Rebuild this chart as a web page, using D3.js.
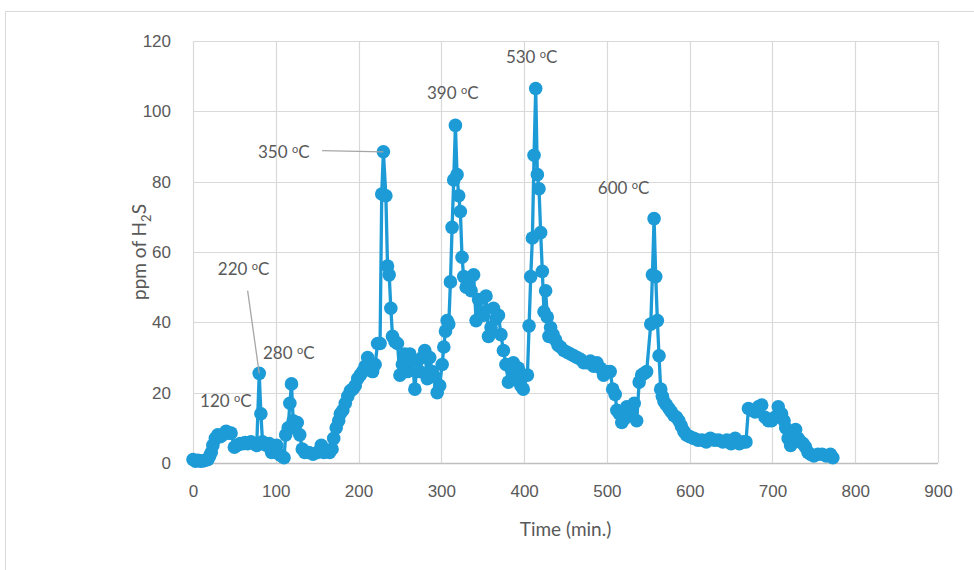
<!DOCTYPE html>
<html>
<head>
<meta charset="utf-8">
<script src="https://cdn.jsdelivr.net/npm/d3@7"></script>
<style>
  body { margin: 0; background: #fff; }
  svg { font-family: Lato, "Open Sans", sans-serif; }
  .tick text { fill: #595959; font-size: 17px; }
</style>
</head>
<body>
<svg width="974" height="570"></svg>
<script>
var times = [0,3,6,9,12,15,18,20,22,24,27,30,33,36,40,43,46,50,53,57,60,63,66,70,74,77,80,82,84,86,89,92,95,98,101,104,107,110,112,115,117,119,121,123,126,129,132,135,140,145,150,155,158,162,165,168,170,173,176,178,181,184,187,190,193,196,199,202,205,208,211,214,217,220,223,226,228,230,233,235,237,239,241,244,247,250,253,256,259,262,265,268,271,274,277,280,283,286,289,292,295,298,301,303,305,307,309,311,313,315,317,319,321,323,325,327,330,333,336,339,342,345,348,351,354,357,360,363,366,369,372,375,378,381,384,387,390,393,396,399,404,406,408,410,412,414,416,418,420,422,424,426,428,430,432,435,438,441,444,448,452,456,460,464,468,472,476,480,484,488,492,496,500,504,507,510,512,515,518,521,524,527,530,533,536,539,542,545,548,553,555,557,559,561,563,565,567,569,572,575,578,581,584,587,590,593,596,600,605,610,615,620,625,630,635,640,645,650,655,660,665,668,671,675,679,683,687,691,695,699,703,707,711,714,716,719,722,725,728,731,734,737,740,743,746,750,755,760,765,770,773];
var ppm = [1,0.5,0.8,0.5,0.6,0.8,1,2,3,5,7,8,7.5,8,9,8.5,8.5,4.5,5,5.5,5.5,5.8,5.5,6,5.5,5,25.5,14,6,5.5,5,5.5,3,4,5,2.5,2,1.5,8,10,17,22.5,12,10,11.5,8,4,3,3,2.5,3,5,3,3.5,3,4,7,10,12,14,15,17,19,20.5,21,22,24,25,26,27.5,30,28,26,28,34,34,76.5,88.5,76,56,53.5,44,36,34.5,34,25,28,31,26,31,29,21,29,26,30,32,24,30,26,24.5,20,22,28,33,37.5,40.5,39.5,51.5,67,80.5,96,82,76,71.5,58.5,53,50,52,49,53.5,40.5,46.5,43,42,47.5,36,38.5,44,41,42,36.5,32,28,23,27,28.5,24,27,22,21,25,39,53,64,87.5,106.5,82,78,65.5,54.5,43,49,41.5,36,38.5,36.5,35,33.5,33,32,31.5,31,30.5,30,29.5,28.5,28.5,29,27.5,28.5,27,25,26,26,21,19.5,15,14,11.5,12.5,16,14,14.5,17,12,23,25,25.5,26,39.5,53.5,69.5,53,40.5,30.5,21,19,17.5,16.5,15.5,14.5,13.5,13,12,10.5,9,8,7.5,7,6.5,6.5,6,7,6.5,6.5,6,6.5,5.5,7,5.5,6,6,15.5,15,14.5,16,16.5,13,12,12,13,16,14,12,10,7,5,8,9.5,7,6,5.5,4.5,3,2.5,2,2.5,2.5,2,2.5,1.5];

var xTicks = [0,100,200,300,400,500,600,700,800,900];
var yTicks = [0,20,40,60,80,100,120];

// temperature notes: text, anchor point in data units, and optional leader target
var notes = [
  {text: "120", x: 8.5, y: 15.9},
  {text: "220", x: 30, y: 53.5, lineFrom: [66, 49], lineTo: [80, 25.5]},
  {text: "280", x: 84.5, y: 29.6},
  {text: "350", x: 78.5, y: 86.7, lineFrom: [156, 88.8], lineTo: [230, 88.5]},
  {text: "390", x: 282.7, y: 103.5},
  {text: "530", x: 378, y: 113.7},
  {text: "600", x: 489, y: 76.5}
];

var svg = d3.select("svg");
var plotLeft = 193, plotRight = 938, plotTop = 41, plotBottom = 463;
var blue = "#1d9bd7";

var x = d3.scaleLinear().domain([0, 900]).range([plotLeft, plotRight]);
var y = d3.scaleLinear().domain([0, 120]).range([plotBottom, plotTop]);

// chart frame
svg.append("rect")
  .attr("x", 5.5).attr("y", 11.5)
  .attr("width", 1000).attr("height", 600)
  .attr("fill", "none").attr("stroke", "#d9d9d9");

// gridlines
svg.append("g").selectAll("line").data(yTicks).enter().append("line")
  .attr("x1", plotLeft).attr("x2", plotRight)
  .attr("y1", function(d) { return Math.round(y(d)) + 0.5; })
  .attr("y2", function(d) { return Math.round(y(d)) + 0.5; })
  .attr("stroke", function(d) { return d == 0 ? "#bfbfbf" : "#d9d9d9"; })
  .attr("stroke-width", function(d) { return d == 0 ? 1.5 : 1.2; });

svg.append("g").selectAll("line").data(xTicks).enter().append("line")
  .attr("y1", plotTop).attr("y2", plotBottom)
  .attr("x1", function(d) { return Math.round(x(d)) + 0.5; })
  .attr("x2", function(d) { return Math.round(x(d)) + 0.5; })
  .attr("stroke", "#d9d9d9").attr("stroke-width", 1.2);

// axes (labels only)
var xAxis = svg.append("g")
  .attr("transform", "translate(0," + plotBottom + ")")
  .call(d3.axisBottom(x).tickValues(xTicks).tickSize(0).tickPadding(22));
xAxis.select(".domain").remove();

var yAxis = svg.append("g")
  .attr("transform", "translate(" + plotLeft + ",0)")
  .call(d3.axisLeft(y).tickValues(yTicks).tickSize(0).tickPadding(22));
yAxis.select(".domain").remove();

// axis titles
svg.append("text")
  .attr("x", (plotLeft + plotRight) / 2).attr("y", 536)
  .attr("text-anchor", "middle")
  .attr("fill", "#595959").style("font-size", "19px")
  .text("Time (min.)");

var yTitle = svg.append("text")
  .attr("transform", "translate(146," + ((plotTop + plotBottom) / 2) + ") rotate(-90)")
  .attr("text-anchor", "middle")
  .attr("fill", "#595959").style("font-size", "19px");
yTitle.append("tspan").text("ppm of H");
yTitle.append("tspan").attr("dy", 5).style("font-size", "13px").text("2");
yTitle.append("tspan").attr("dy", -5).text("S");

// series
var pts = times.map(function(t, i) { return [t, ppm[i]]; });
var line = d3.line()
  .x(function(d) { return x(d[0]); })
  .y(function(d) { return y(d[1]); });

svg.append("path")
  .datum(pts)
  .attr("fill", "none")
  .attr("stroke", blue)
  .attr("stroke-width", 3.3)
  .attr("stroke-linejoin", "round")
  .attr("d", line);

svg.append("g").selectAll("circle").data(pts).enter().append("circle")
  .attr("cx", function(d) { return x(d[0]); })
  .attr("cy", function(d) { return y(d[1]); })
  .attr("r", 6.8)
  .attr("fill", blue);

// leader lines
svg.append("g").selectAll("line").data(notes.filter(function(n) { return n.lineFrom; }))
  .enter().append("line")
  .attr("x1", function(d) { return x(d.lineFrom[0]); })
  .attr("y1", function(d) { return y(d.lineFrom[1]); })
  .attr("x2", function(d) { return x(d.lineTo[0]); })
  .attr("y2", function(d) { return y(d.lineTo[1]); })
  .attr("stroke", "#a6a6a6").attr("stroke-width", 1.3);

// temperature labels
var lab = svg.append("g").selectAll("text").data(notes).enter().append("text")
  .attr("x", function(d) { return x(d.x); })
  .attr("y", function(d) { return y(d.y); })
  .attr("fill", "#595959")
  .style("font-size", "17px");
lab.append("tspan").text(function(d) { return d.text + " "; });
lab.append("tspan").attr("dy", -5).style("font-size", "11px").text("o");
lab.append("tspan").attr("dy", 5).text("C");
</script>
</body>
</html>
